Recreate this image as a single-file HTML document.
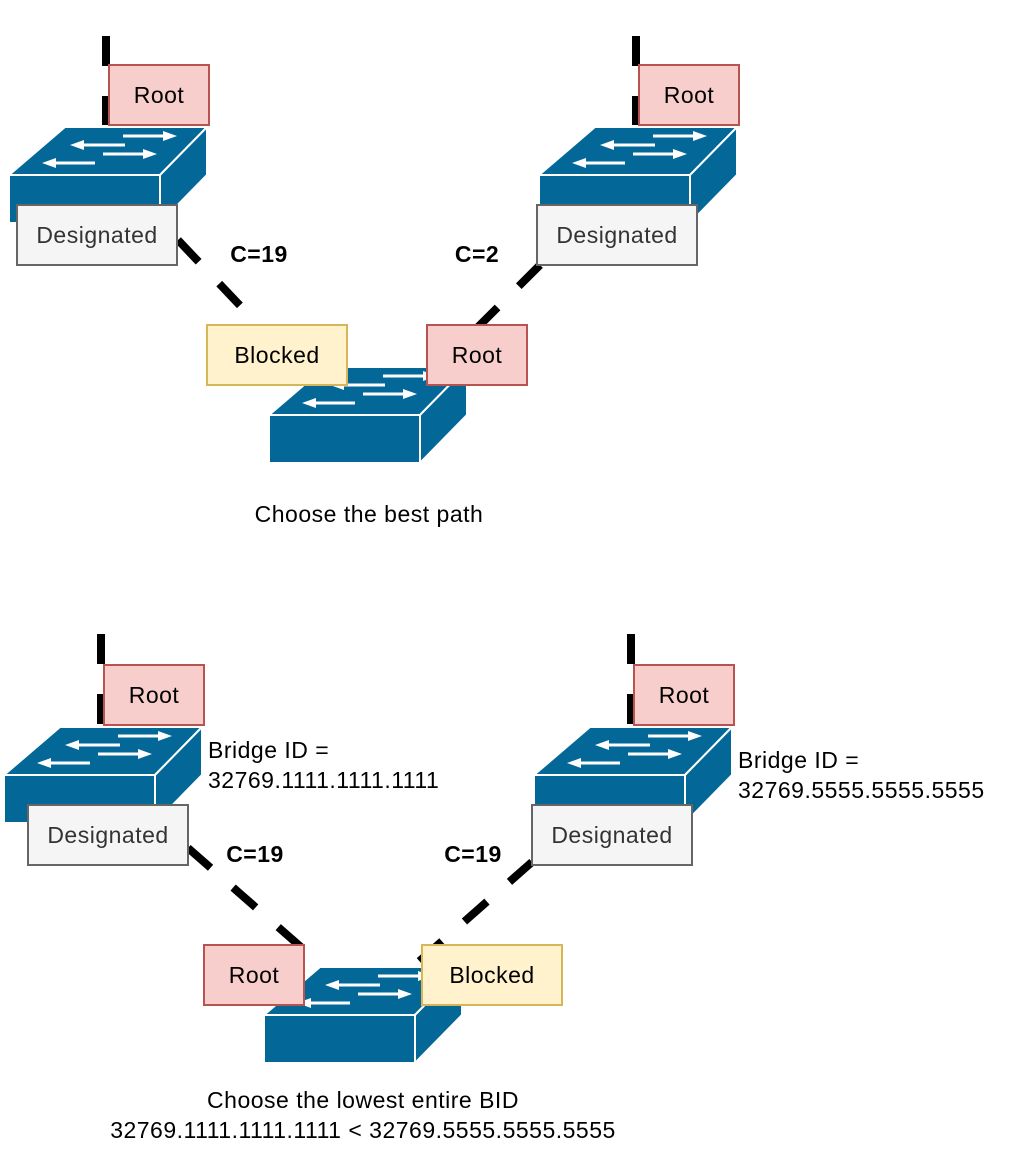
<!DOCTYPE html>
<html><head><style>
body{margin:0;background:#fff;}
svg text{font-family:"Liberation Sans",Arial,sans-serif;letter-spacing:0.5px;}
</style></head><body>
<svg width="1036" height="1156" viewBox="0 0 1036 1156" xmlns="http://www.w3.org/2000/svg">
<defs>
<g id="sw">
<polygon points="0,48 56,0 198,0 151,48" fill="#036897" stroke="#fff" stroke-width="2"/>
<polygon points="151,48 198,0 198,48 151,96" fill="#036897" stroke="#fff" stroke-width="2"/>
<rect x="0" y="48" width="151" height="48" fill="#036897" stroke="#fff" stroke-width="2"/>
<g stroke="#fff" stroke-width="3" fill="#fff">
<line x1="114" y1="9" x2="158" y2="9"/><polygon points="168,9 154,4 154,14" stroke="none"/>
<line x1="71" y1="18" x2="116" y2="18"/><polygon points="61,18 75,13 75,23" stroke="none"/>
<line x1="94" y1="27" x2="138" y2="27"/><polygon points="148,27 134,22 134,32" stroke="none"/>
<line x1="43" y1="36" x2="86" y2="36"/><polygon points="33,36 47,31 47,41" stroke="none"/>
</g>
</g>
</defs>
<g stroke="#000" stroke-width="8" fill="none" stroke-dasharray="30 30">
<line x1="106" y1="36" x2="106" y2="125"/>
<line x1="636" y1="36" x2="636" y2="125"/>
<line x1="178" y1="240" x2="320" y2="390"/>
<line x1="540" y1="265" x2="420" y2="385"/>
<line x1="101" y1="634" x2="101" y2="725"/>
<line x1="631" y1="634" x2="631" y2="725"/>
<line x1="188" y1="848" x2="318" y2="962"/>
<line x1="532" y1="862" x2="415" y2="965"/>
</g>
<use href="#sw" x="9" y="127"/>
<use href="#sw" x="539" y="127"/>
<use href="#sw" x="269" y="367"/>
<use href="#sw" x="4" y="727"/>
<use href="#sw" x="534" y="727"/>
<use href="#sw" x="264" y="967"/>
<g stroke-width="2" font-size="23" text-anchor="middle">
<rect x="109" y="65" width="100" height="60" fill="#f8cecc" stroke="#b85450"/><text x="159" y="103" fill="#000" stroke="none">Root</text>
<rect x="17" y="205" width="160" height="60" fill="#f5f5f5" stroke="#666"/><text x="97" y="243" fill="#333" stroke="none">Designated</text>
<rect x="639" y="65" width="100" height="60" fill="#f8cecc" stroke="#b85450"/><text x="689" y="103" fill="#000" stroke="none">Root</text>
<rect x="537" y="205" width="160" height="60" fill="#f5f5f5" stroke="#666"/><text x="617" y="243" fill="#333" stroke="none">Designated</text>
<rect x="207" y="325" width="140" height="60" fill="#fff2cc" stroke="#d6b656"/><text x="277" y="363" fill="#000" stroke="none">Blocked</text>
<rect x="427" y="325" width="100" height="60" fill="#f8cecc" stroke="#b85450"/><text x="477" y="363" fill="#000" stroke="none">Root</text>
<rect x="104" y="665" width="100" height="60" fill="#f8cecc" stroke="#b85450"/><text x="154" y="703" fill="#000" stroke="none">Root</text>
<rect x="28" y="805" width="160" height="60" fill="#f5f5f5" stroke="#666"/><text x="108" y="843" fill="#333" stroke="none">Designated</text>
<rect x="634" y="665" width="100" height="60" fill="#f8cecc" stroke="#b85450"/><text x="684" y="703" fill="#000" stroke="none">Root</text>
<rect x="532" y="805" width="160" height="60" fill="#f5f5f5" stroke="#666"/><text x="612" y="843" fill="#333" stroke="none">Designated</text>
<rect x="204" y="945" width="100" height="60" fill="#f8cecc" stroke="#b85450"/><text x="254" y="983" fill="#000" stroke="none">Root</text>
<rect x="422" y="945" width="140" height="60" fill="#fff2cc" stroke="#d6b656"/><text x="492" y="983" fill="#000" stroke="none">Blocked</text>
</g>
<g font-size="23" font-weight="bold" text-anchor="middle">
<text x="259" y="262">C=19</text>
<text x="477" y="262">C=2</text>
<text x="255" y="862">C=19</text>
<text x="473" y="862">C=19</text>
</g>
<g font-size="23">
<text x="208" y="758">Bridge ID =</text>
<text x="208" y="788">32769.1111.1111.1111</text>
<text x="738" y="768">Bridge ID =</text>
<text x="738" y="798">32769.5555.5555.5555</text>
</g>
<g font-size="23" text-anchor="middle">
<text x="369" y="522">Choose the best path</text>
<text x="363" y="1108">Choose the lowest entire BID</text>
<text x="363" y="1138">32769.1111.1111.1111 &lt; 32769.5555.5555.5555</text>
</g>
</svg>
</body></html>
